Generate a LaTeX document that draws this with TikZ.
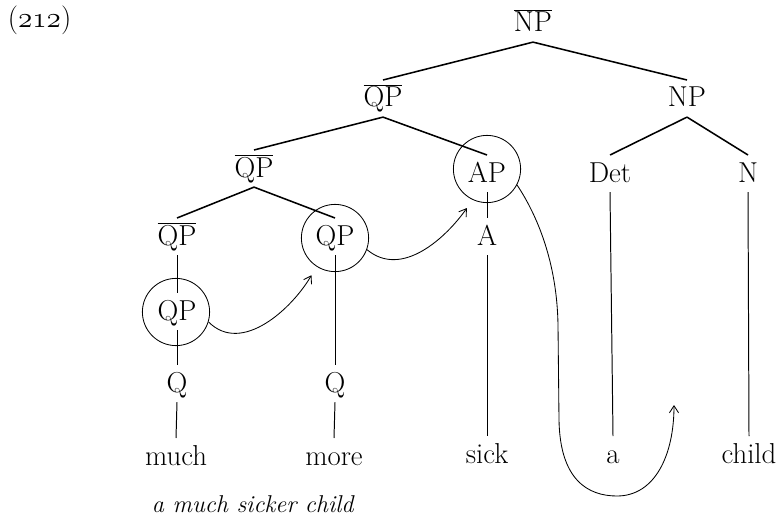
\documentclass[tikz,border=0pt]{standalone}
\usepackage{fontspec}
\usepackage{tikz}
\usetikzlibrary{arrows.meta}

\begin{document}
\begin{tikzpicture}[
    x=0.025cm,y=-0.025cm,
    >={Straight Barb[length=5pt,width=6.5pt]},
    font=\fontsize{20.5}{24}\selectfont,
    cat/.style={anchor=base,inner sep=2pt,text height=17pt,text depth=5pt},
    ring/.style={draw,circle,line width=.6pt,minimum size=1.68cm,inner sep=0pt},
    branch/.style={line width=1.1pt},
    stem/.style={line width=.7pt},
    move/.style={->,line width=.6pt,shorten >=.25cm}
  ]
    \useasboundingbox (0,0) rectangle (782,519);
    \node[anchor=base west] (exno) at (3,28)
      {(\begingroup\usefont{OML}{cmm}{m}{it}212\endgroup)};
    % categories
    \node[cat] (npbar) at (533,32) {$\overline{\mbox{NP}}$};
    \node[cat] (qpbarhi) at (383,107) {$\overline{\mbox{QP}}$};
    \node[cat] (np) at (687,107) {NP};
    \node[cat] (qpbarmid) at (254,177) {$\overline{\mbox{QP}}$};
    \node[cat] (ap) at (487,182) {AP};
    \node[cat] (det) at (610,182) {Det};
    \node[cat] (noun) at (748,182) {N};
    \node[cat] (qpbarlo) at (177,245) {$\overline{\mbox{QP}}$};
    \node[cat] (qpright) at (335,245) {QP};
    \node[cat] (adj) at (487,245) {A};
    \node[cat] (qpleft) at (177,320) {QP};
    \node[cat] (qleft) at (177,392) {Q};
    \node[cat] (qright) at (335,392) {Q};
    % words
    \node[cat] (much) at (176,465) {much};
    \node[cat] (more) at (334,465) {more};
    \node[cat] (sick) at (487,463) {sick};
    \node[cat] (art) at (613,463) {a};
    \node[cat] (child) at (749,463) {child};
    \node[anchor=base west,font=\fontsize{17.3}{20}\selectfont\itshape] (gloss)
      at (147,512) {a much sicker child};
    % circled nodes
    \node[ring] (ringqpl) at (176,312) {};
    \node[ring] (ringqpr) at (335,238) {};
    \node[ring] (ringap) at (487,169) {};
    \coordinate (landing) at (674,405);
    % branches
    \draw[branch] (npbar.south) -- (qpbarhi.north);
    \draw[branch] (npbar.south) -- (np.north);
    \draw[branch] (qpbarhi.south) -- (qpbarmid.north);
    \draw[branch] (qpbarhi.south) -- (ap.north);
    \draw[branch] (np.south) -- (det.north);
    \draw[branch] (np.south) -- (noun.north);
    \draw[branch] (qpbarmid.south) -- (qpbarlo.north);
    \draw[branch] (qpbarmid.south) -- (qpright.north);
    \draw[stem] (qpbarlo.south) -- (qpleft.north);
    \draw[stem] (qpleft.south) -- (qleft.north);
    \draw[stem] (qleft.south) -- (much.north);
    \draw[stem] (qpright.south) -- (qright.north);
    \draw[stem] (qright.south) -- (more.north);
    \draw[stem] (ap.south) -- (adj.north);
    \draw[stem] (adj.south) -- (sick.north);
    \draw[stem] (det.south) -- (art.north);
    \draw[stem] (noun.south) -- (child.north);
    % movement arrows
    \draw[move] (ringqpl.-17) to[out=-45,in=240] (ringqpr.237);
    \draw[move] (ringqpr.-20) to[out=-40,in=235] (ringap.245);
    \draw[->,line width=.6pt] (ringap.-28)
      .. controls (537,215) and (557,262) .. (558,325) -- (559,420)
      .. controls (560,480) and (588,496) .. (617,496)
      .. controls (655,496) and (674,455) .. (landing);
  \end{tikzpicture}
\end{document}
